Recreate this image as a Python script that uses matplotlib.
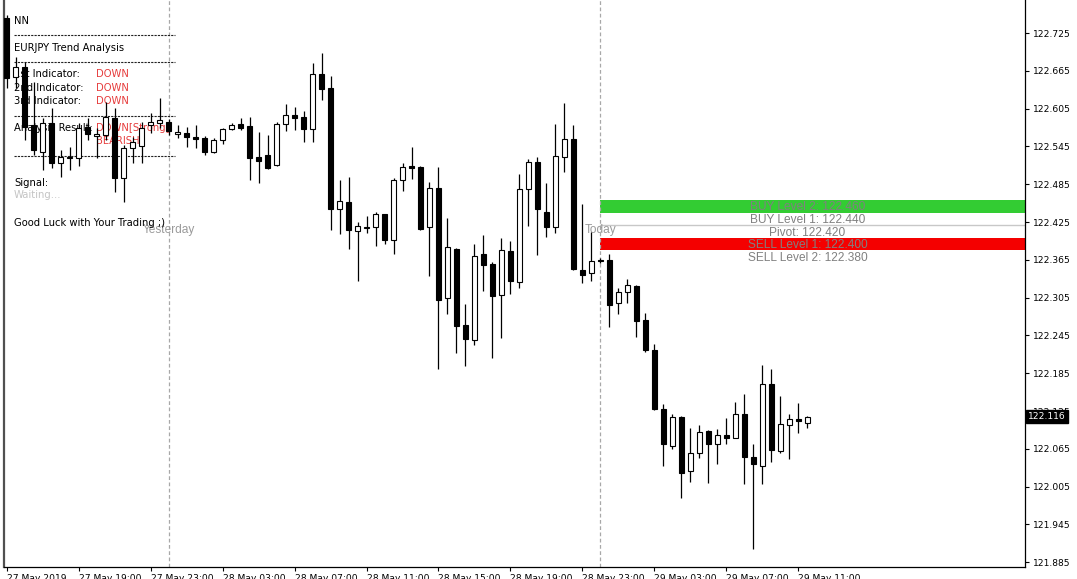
import matplotlib
matplotlib.use("Agg")
import matplotlib.pyplot as plt
from matplotlib.transforms import blended_transform_factory
import numpy as np

# ---------------- data ----------------
opens = [122.749, 122.655, 122.671, 122.579, 122.536, 122.582, 122.519, 122.527, 122.527, 122.576,
         122.562, 122.563, 122.590, 122.495, 122.542, 122.546, 122.579, 122.582, 122.584, 122.565,
         122.566, 122.560, 122.558, 122.536, 122.555, 122.573, 122.581, 122.577, 122.528, 122.531,
         122.515, 122.581, 122.595, 122.592, 122.573, 122.660, 122.638, 122.446, 122.457, 122.411,
         122.416, 122.417, 122.438, 122.396, 122.492, 122.514, 122.512, 122.417, 122.479, 122.304,
         122.382, 122.262, 122.238, 122.374, 122.358, 122.309, 122.379, 122.330, 122.477, 122.520,
         122.441, 122.417, 122.528, 122.557, 122.349, 122.344, 122.365, 122.365, 122.296, 122.314,
         122.323, 122.270, 122.222, 122.128, 122.069, 122.116, 122.030, 122.058, 122.093, 122.073,
         122.087, 122.082, 122.120, 122.052, 122.038, 122.168, 122.062, 122.103, 122.112, 122.106]
highs = [122.754, 122.687, 122.679, 122.647, 122.590, 122.606, 122.539, 122.544, 122.582, 122.590,
         122.574, 122.616, 122.606, 122.547, 122.560, 122.584, 122.598, 122.622, 122.589, 122.579,
         122.576, 122.579, 122.562, 122.558, 122.574, 122.582, 122.590, 122.592, 122.568, 122.563,
         122.584, 122.612, 122.608, 122.601, 122.677, 122.693, 122.657, 122.492, 122.496, 122.425,
         122.435, 122.441, 122.438, 122.495, 122.519, 122.544, 122.514, 122.489, 122.512, 122.431,
         122.384, 122.295, 122.390, 122.404, 122.362, 122.400, 122.395, 122.501, 122.525, 122.528,
         122.487, 122.581, 122.614, 122.579, 122.454, 122.409, 122.368, 122.374, 122.320, 122.335,
         122.325, 122.281, 122.231, 122.136, 122.120, 122.117, 122.098, 122.103, 122.095, 122.096,
         122.114, 122.139, 122.152, 122.073, 122.198, 122.192, 122.149, 122.120, 122.138, 122.117]
lows = [122.638, 122.638, 122.555, 122.531, 122.508, 122.511, 122.496, 122.508, 122.514, 122.555,
        122.527, 122.555, 122.473, 122.457, 122.519, 122.519, 122.566, 122.574, 122.563, 122.558,
        122.544, 122.542, 122.531, 122.535, 122.549, 122.571, 122.571, 122.492, 122.487, 122.509,
        122.514, 122.569, 122.571, 122.552, 122.552, 122.619, 122.412, 122.406, 122.382, 122.331,
        122.408, 122.387, 122.390, 122.374, 122.474, 122.493, 122.412, 122.339, 122.192, 122.279,
        122.217, 122.196, 122.230, 122.316, 122.209, 122.241, 122.311, 122.320, 122.419, 122.373,
        122.401, 122.408, 122.504, 122.349, 122.328, 122.331, 122.360, 122.258, 122.279, 122.296,
        122.243, 122.219, 122.127, 122.038, 122.065, 121.987, 122.012, 122.050, 122.011, 122.041,
        122.073, 122.082, 122.009, 121.906, 122.009, 122.044, 122.058, 122.049, 122.090, 122.098]
closes = [122.654, 122.671, 122.576, 122.539, 122.582, 122.519, 122.528, 122.528, 122.574, 122.565,
          122.565, 122.592, 122.495, 122.542, 122.552, 122.574, 122.584, 122.587, 122.569, 122.568,
          122.560, 122.557, 122.536, 122.555, 122.573, 122.579, 122.574, 122.527, 122.522, 122.511,
          122.581, 122.595, 122.590, 122.573, 122.660, 122.636, 122.446, 122.458, 122.412, 122.419,
          122.417, 122.438, 122.396, 122.492, 122.512, 122.511, 122.414, 122.479, 122.301, 122.385,
          122.260, 122.239, 122.371, 122.357, 122.308, 122.381, 122.331, 122.477, 122.520, 122.446,
          122.417, 122.530, 122.557, 122.350, 122.341, 122.363, 122.363, 122.293, 122.314, 122.325,
          122.268, 122.222, 122.128, 122.073, 122.116, 122.027, 122.058, 122.092, 122.073, 122.087,
          122.082, 122.120, 122.052, 122.041, 122.168, 122.063, 122.104, 122.112, 122.109, 122.116]

x_tick_bars = [0, 8, 16, 24, 32, 40, 48, 56, 64, 72, 80, 88]
x_tick_labels = ["27 May 2019", "27 May 19:00", "27 May 23:00", "28 May 03:00", "28 May 07:00",
                 "28 May 11:00", "28 May 15:00", "28 May 19:00", "28 May 23:00", "29 May 03:00",
                 "29 May 07:00", "29 May 11:00"]
y_ticks = [122.725, 122.665, 122.605, 122.545, 122.485, 122.425, 122.365, 122.305,
           122.245, 122.185, 122.125, 122.065, 122.005, 121.945, 121.885]

yesterday_bar = 18
today_bar = 66
buy2, buy1, pivot, sell1, sell2 = 122.460, 122.440, 122.420, 122.400, 122.380
level_texts = ["BUY Level 2: 122.460", "BUY Level 1: 122.440", "Pivot: 122.420",
               "SELL Level 1: 122.400", "SELL Level 2: 122.380"]
current_price = 122.116

# ---------------- figure ----------------
W, H = 1077, 579
fig = plt.figure(figsize=(W / 100, H / 100), dpi=100, facecolor="white")
ax = fig.add_axes([4 / W, 12 / H, (1025 - 4) / W, 567 / H])
ax.set_facecolor("white")
ax.set_xlim(-0.28, 113.17)
ax.set_ylim(121.8774, 122.7774)

n = len(opens)
xs = np.arange(n)

# level bands
xmax = ax.get_xlim()[1]
ax.fill_between([today_bar, xmax], buy1, buy2, color="#33cc33", lw=0, zorder=1)
ax.fill_between([today_bar, xmax], sell2, sell1, color="#f40000", lw=0, zorder=1)
ax.plot([today_bar, xmax], [pivot, pivot], color="#c8c8c8", lw=1.0, zorder=1)

# vertical separators
for b in (yesterday_bar, today_bar):
    ax.axvline(b, color="#a8a8a8", lw=0.9, ls=(0, (3, 2)), zorder=1)

# candles
o = np.array(opens); c = np.array(closes); h = np.array(highs); l = np.array(lows)
ax.vlines(xs, l, h, color="black", lw=0.9, zorder=3)
bull = c >= o
ax.bar(xs, np.abs(c - o), bottom=np.minimum(o, c), width=0.58,
       color=np.where(bull, "white", "black"), edgecolor="black", lw=0.8, zorder=4)

# level texts
levels = [buy2, buy1, pivot, sell1, sell2]
for lv, t in zip(levels, level_texts):
    ax.annotate(t, xy=(n - 1, lv), xytext=(0, -7.5), textcoords="offset pixels",
                ha="center", va="center", fontsize=8.6, family="Liberation Sans",
                color="#808080", zorder=5)

ax.annotate("Yesterday", xy=(yesterday_bar, pivot), xytext=(0, -4.5), textcoords="offset pixels",
            ha="center", va="center", fontsize=8.6, family="Liberation Sans", color="#9a9a9a", zorder=2)
ax.annotate("Today", xy=(today_bar, pivot), xytext=(0, -4.5), textcoords="offset pixels",
            ha="center", va="center", fontsize=8.6, family="Liberation Sans", color="#9a9a9a", zorder=2)

# left info panel (drawn under the candles)
def P(px, py):
    return px / W, 1 - py / H

panel = [
    ("NN", 14, 20.5, "black"),
    ("EURJPY Trend Analysis", 14, 48, "black"),
    ("1st Indicator:", 14, 74, "black"),
    ("2nd Indicator:", 14, 88, "black"),
    ("3rd Indicator:", 14, 101, "black"),
    ("Analysis Result:", 14, 128, "black"),
    ("Signal:", 14, 183, "black"),
    ("Waiting...", 14, 195, "#c4c4c4"),
    ("Good Luck with Your Trading ;)", 14, 223, "black"),
    ("DOWN", 96, 74, "#e63c3c"),
    ("DOWN", 96, 88, "#e63c3c"),
    ("DOWN", 96, 101, "#e63c3c"),
    ("DOWN[Strong]", 96, 128, "#e63c3c"),
    ("BEARISH", 96, 141, "#e63c3c"),
]
for t, px, py, col in panel:
    x0, y0 = P(px, py)
    ax.text(x0, y0, t, transform=fig.transFigure, ha="left", va="center",
            fontsize=7.2, color=col, zorder=2)
for py in (35, 62, 116, 156):
    x0, y0 = P(14, py)
    x1, _ = P(175, py)
    ax.plot([x0, x1], [y0, y0], transform=fig.transFigure, color="#222222",
            lw=0.8, ls=(0, (2, 1)), zorder=2)

# axes styling
for s in ("top",):
    ax.spines[s].set_visible(False)
ax.spines["left"].set_linewidth(1.6)
ax.spines["left"].set_color("#505050")
ax.spines["right"].set_linewidth(0.9)
ax.spines["bottom"].set_linewidth(0.9)

ax.yaxis.tick_right()
ax.set_yticks(y_ticks)
ax.set_yticklabels([f"{v:.3f}" for v in y_ticks])
ax.set_xticks(x_tick_bars)
ax.set_xticklabels(x_tick_labels)
ax.tick_params(axis="y", direction="out", length=3, width=0.8, labelsize=6.6, pad=2.5)
ax.tick_params(axis="x", direction="out", length=3, width=0.8, labelsize=6.6, pad=2)
for lab in ax.get_xticklabels():
    lab.set_ha("left")

# current price marker
tr = blended_transform_factory(ax.transAxes, ax.transData)
ax.text(1.0 + 3 / 1021, current_price, f"{current_price:.3f}", transform=tr,
        ha="left", va="center", fontsize=6.6, color="white", zorder=10, clip_on=False,
        bbox=dict(boxstyle="square,pad=0.25", facecolor="black", edgecolor="black"))

fig.savefig("out.png", dpi=100, facecolor="white")
